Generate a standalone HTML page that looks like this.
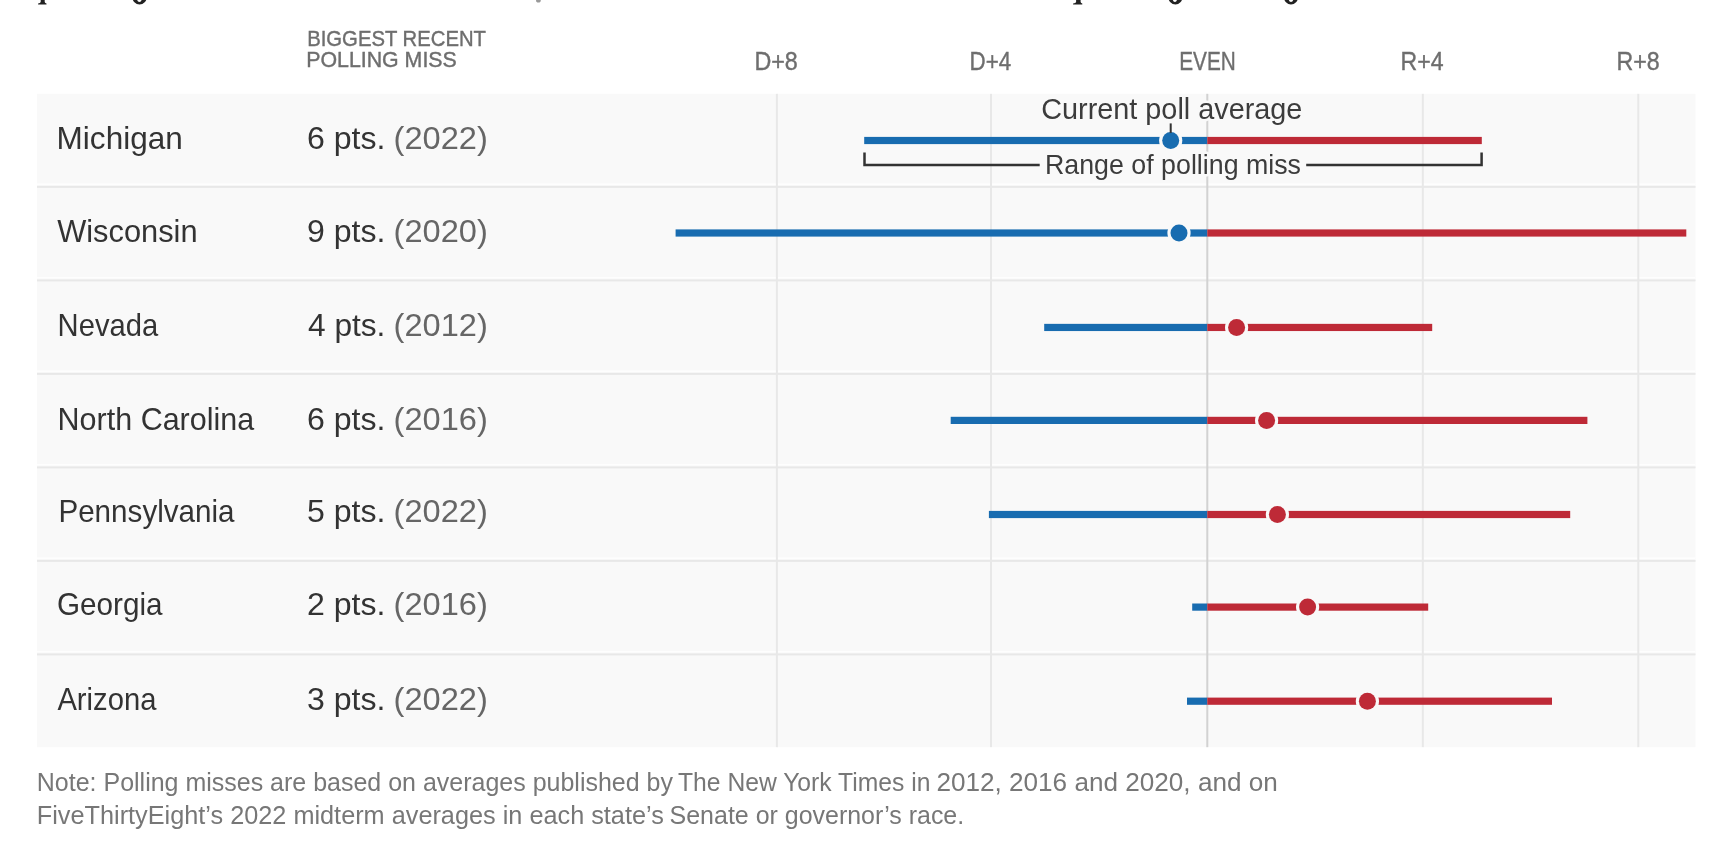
<!DOCTYPE html>
<html><head><meta charset="utf-8"><style>
html,body{margin:0;padding:0;background:#fff;}
body{width:1732px;height:868px;overflow:hidden;position:relative;}
svg{position:absolute;left:0;top:0;filter:blur(0.45px);}
text{font-family:"Liberation Sans",sans-serif;}
</style></head><body>
<svg width="1732" height="868" viewBox="0 0 1732 868">
<g fill="#222">
<path d="M40.7 0 H44.7 V2 Q45.0 3.3 46.5 3.5 V4.5 H38.1 V3.5 Q40.400000000000006 3.3 40.7 2 Z"/>
<path fill-rule="evenodd" d="M132.3 -3 A7.25 7.5 0 0 0 146.8 -3 Z M136.8 -3 A2.5999999999999943 5 0 0 0 142.0 -3 Z"/>
<path d="M1076.1 0 H1080.6 V2 Q1080.8999999999999 3.3 1082.3 3.5 V4.5 H1073.1 V3.5 Q1075.8 3.3 1076.1 2 Z"/>
<path fill-rule="evenodd" d="M1168.3 -3 A7.100000000000023 7.5 0 0 0 1182.5 -3 Z M1172.5 -3 A2.3999999999999773 5 0 0 0 1177.3 -3 Z"/>
<path fill-rule="evenodd" d="M1283.9 -3 A7.099999999999909 7.5 0 0 0 1298.1 -3 Z M1288.4 -3 A2.599999999999909 5 0 0 0 1293.6 -3 Z"/>
</g>
<ellipse cx="538.4" cy="0" rx="2.4" ry="2.6" fill="#999"/>
<rect x="37" y="93.8" width="1658.5" height="653.4" fill="#f9f9f9"/>
<rect x="37" y="183.4" width="1658.5" height="1.6" fill="#fefefe"/>
<rect x="37" y="185.9" width="1658.5" height="2" fill="#e8e8e8"/>
<rect x="37" y="276.9" width="1658.5" height="1.6" fill="#fefefe"/>
<rect x="37" y="279.4" width="1658.5" height="2" fill="#e8e8e8"/>
<rect x="37" y="370.4" width="1658.5" height="1.6" fill="#fefefe"/>
<rect x="37" y="372.9" width="1658.5" height="2" fill="#e8e8e8"/>
<rect x="37" y="463.9" width="1658.5" height="1.6" fill="#fefefe"/>
<rect x="37" y="466.4" width="1658.5" height="2" fill="#e8e8e8"/>
<rect x="37" y="557.4" width="1658.5" height="1.6" fill="#fefefe"/>
<rect x="37" y="559.9" width="1658.5" height="2" fill="#e8e8e8"/>
<rect x="37" y="650.9" width="1658.5" height="1.6" fill="#fefefe"/>
<rect x="37" y="653.4" width="1658.5" height="2" fill="#e8e8e8"/>
<rect x="775.9" y="93.8" width="2" height="653.4" fill="#e8e8e8"/>
<rect x="990.0" y="93.8" width="2" height="653.4" fill="#e8e8e8"/>
<rect x="1206.3" y="93.8" width="2" height="653.4" fill="#d2d2d2"/>
<rect x="1421.8" y="93.8" width="2" height="653.4" fill="#e8e8e8"/>
<rect x="1637.3" y="93.8" width="2" height="653.4" fill="#e8e8e8"/>
<text x="307.2" y="46.00" font-size="21.7" fill="#6e6e6e" textLength="178.8" lengthAdjust="spacingAndGlyphs" stroke="#6e6e6e" stroke-width="0.4">BIGGEST RECENT</text>
<text x="306.2" y="67.30" font-size="21.7" fill="#6e6e6e" textLength="150.6" lengthAdjust="spacingAndGlyphs" stroke="#6e6e6e" stroke-width="0.4">POLLING MISS</text>
<text x="754.4" y="70.20" font-size="26" fill="#6e6e6e" textLength="43.4" lengthAdjust="spacingAndGlyphs" stroke="#6e6e6e" stroke-width="0.4">D+8</text>
<text x="969.6" y="70.20" font-size="26" fill="#6e6e6e" textLength="41.6" lengthAdjust="spacingAndGlyphs" stroke="#6e6e6e" stroke-width="0.4">D+4</text>
<text x="1179.2" y="70.20" font-size="26" fill="#6e6e6e" textLength="56.6" lengthAdjust="spacingAndGlyphs" stroke="#6e6e6e" stroke-width="0.4">EVEN</text>
<text x="1400.6" y="70.20" font-size="26" fill="#6e6e6e" textLength="43.0" lengthAdjust="spacingAndGlyphs" stroke="#6e6e6e" stroke-width="0.4">R+4</text>
<text x="1616.4" y="70.20" font-size="26" fill="#6e6e6e" textLength="43.2" lengthAdjust="spacingAndGlyphs" stroke="#6e6e6e" stroke-width="0.4">R+8</text>
<text x="56.6" y="148.80" font-size="30.7" fill="#333333" textLength="126.2" lengthAdjust="spacingAndGlyphs">Michigan</text>
<text x="307.0" y="148.80" font-size="30.7" fill="#333333" textLength="78.4" lengthAdjust="spacingAndGlyphs">6 pts.</text>
<text x="393.6" y="148.80" font-size="30.7" fill="#666666" textLength="94.2" lengthAdjust="spacingAndGlyphs">(2022)</text>
<rect x="864.2" y="136.90" width="343.1" height="7.2" fill="#186cb0"/>
<rect x="1207.3" y="136.90" width="274.5" height="7.2" fill="#be2a37"/>
<circle cx="1170.7" cy="140.5" r="11.6" fill="#f9f9f9"/>
<circle cx="1170.7" cy="140.5" r="8.5" fill="#186cb0"/>
<text x="57.2" y="242.30" font-size="30.7" fill="#333333" textLength="140.4" lengthAdjust="spacingAndGlyphs">Wisconsin</text>
<text x="307.0" y="242.30" font-size="30.7" fill="#333333" textLength="78.4" lengthAdjust="spacingAndGlyphs">9 pts.</text>
<text x="393.6" y="242.30" font-size="30.7" fill="#666666" textLength="94.2" lengthAdjust="spacingAndGlyphs">(2020)</text>
<rect x="675.6" y="229.40" width="531.7" height="7.2" fill="#186cb0"/>
<rect x="1207.3" y="229.40" width="479.0" height="7.2" fill="#be2a37"/>
<circle cx="1179.0" cy="233.0" r="11.6" fill="#f9f9f9"/>
<circle cx="1179.0" cy="233.0" r="8.5" fill="#186cb0"/>
<text x="57.6" y="335.50" font-size="30.7" fill="#333333" textLength="100.6" lengthAdjust="spacingAndGlyphs">Nevada</text>
<text x="308.0" y="335.50" font-size="30.7" fill="#333333" textLength="77.4" lengthAdjust="spacingAndGlyphs">4 pts.</text>
<text x="393.6" y="335.50" font-size="30.7" fill="#666666" textLength="94.2" lengthAdjust="spacingAndGlyphs">(2012)</text>
<rect x="1044.2" y="323.85" width="163.1" height="7.2" fill="#186cb0"/>
<rect x="1207.3" y="323.85" width="224.9" height="7.2" fill="#be2a37"/>
<circle cx="1236.6" cy="327.4" r="11.6" fill="#f9f9f9"/>
<circle cx="1236.6" cy="327.4" r="8.5" fill="#be2a37"/>
<text x="57.6" y="429.60" font-size="30.7" fill="#333333" textLength="196.6" lengthAdjust="spacingAndGlyphs">North Carolina</text>
<text x="307.0" y="429.60" font-size="30.7" fill="#333333" textLength="78.4" lengthAdjust="spacingAndGlyphs">6 pts.</text>
<text x="393.6" y="429.60" font-size="30.7" fill="#666666" textLength="94.2" lengthAdjust="spacingAndGlyphs">(2016)</text>
<rect x="950.7" y="416.80" width="256.6" height="7.2" fill="#186cb0"/>
<rect x="1207.3" y="416.80" width="380.1" height="7.2" fill="#be2a37"/>
<circle cx="1266.6" cy="420.4" r="11.6" fill="#f9f9f9"/>
<circle cx="1266.6" cy="420.4" r="8.5" fill="#be2a37"/>
<text x="58.4" y="521.80" font-size="30.7" fill="#333333" textLength="176.2" lengthAdjust="spacingAndGlyphs">Pennsylvania</text>
<text x="307.0" y="521.80" font-size="30.7" fill="#333333" textLength="78.4" lengthAdjust="spacingAndGlyphs">5 pts.</text>
<text x="393.6" y="521.80" font-size="30.7" fill="#666666" textLength="94.2" lengthAdjust="spacingAndGlyphs">(2022)</text>
<rect x="988.9" y="510.90" width="218.4" height="7.2" fill="#186cb0"/>
<rect x="1207.3" y="510.90" width="362.9" height="7.2" fill="#be2a37"/>
<circle cx="1277.4" cy="514.5" r="11.6" fill="#f9f9f9"/>
<circle cx="1277.4" cy="514.5" r="8.5" fill="#be2a37"/>
<text x="57.0" y="615.30" font-size="30.7" fill="#333333" textLength="105.6" lengthAdjust="spacingAndGlyphs">Georgia</text>
<text x="307.0" y="615.30" font-size="30.7" fill="#333333" textLength="78.4" lengthAdjust="spacingAndGlyphs">2 pts.</text>
<text x="393.6" y="615.30" font-size="30.7" fill="#666666" textLength="94.2" lengthAdjust="spacingAndGlyphs">(2016)</text>
<rect x="1192.2" y="603.50" width="15.1" height="7.2" fill="#186cb0"/>
<rect x="1207.3" y="603.50" width="220.9" height="7.2" fill="#be2a37"/>
<circle cx="1307.6" cy="607.1" r="11.6" fill="#f9f9f9"/>
<circle cx="1307.6" cy="607.1" r="8.5" fill="#be2a37"/>
<text x="57.4" y="709.60" font-size="30.7" fill="#333333" textLength="99.0" lengthAdjust="spacingAndGlyphs">Arizona</text>
<text x="307.0" y="709.60" font-size="30.7" fill="#333333" textLength="78.4" lengthAdjust="spacingAndGlyphs">3 pts.</text>
<text x="393.6" y="709.60" font-size="30.7" fill="#666666" textLength="94.2" lengthAdjust="spacingAndGlyphs">(2022)</text>
<rect x="1187.0" y="697.60" width="20.3" height="7.2" fill="#186cb0"/>
<rect x="1207.3" y="697.60" width="344.7" height="7.2" fill="#be2a37"/>
<circle cx="1367.4" cy="701.2" r="11.6" fill="#f9f9f9"/>
<circle cx="1367.4" cy="701.2" r="8.5" fill="#be2a37"/>
<text x="1041.2" y="118.90" font-size="28.7" fill="#3c3c3c" textLength="261.2" lengthAdjust="spacingAndGlyphs" stroke="#f9f9f9" stroke-width="5" paint-order="stroke" stroke-linejoin="round">Current poll average</text>
<rect x="1169.7" y="123.4" width="2" height="9.5" fill="#333"/>
<text x="1045.0" y="173.80" font-size="27.2" fill="#3c3c3c" textLength="256.0" lengthAdjust="spacingAndGlyphs" stroke="#f9f9f9" stroke-width="5" paint-order="stroke" stroke-linejoin="round">Range of polling miss</text>
<path d="M864.5 152.5 V165 H1039.7 M1306.2 165 H1481.6 V152.5" fill="none" stroke="#333" stroke-width="2.5"/>
<text x="36.8" y="791.20" font-size="26" fill="#777777" textLength="636.2" lengthAdjust="spacingAndGlyphs">Note: Polling misses are based on averages published by</text>
<text x="678.0" y="791.20" font-size="26" fill="#777777" textLength="252.4" lengthAdjust="spacingAndGlyphs">The New York Times in</text>
<text x="936.4" y="791.20" font-size="26" fill="#777777" textLength="341.4" lengthAdjust="spacingAndGlyphs">2012, 2016 and 2020, and on</text>
<text x="36.8" y="823.50" font-size="26" fill="#777777" textLength="627.0" lengthAdjust="spacingAndGlyphs">FiveThirtyEight’s 2022 midterm averages in each state’s</text>
<text x="669.6" y="823.50" font-size="26" fill="#777777" textLength="294.6" lengthAdjust="spacingAndGlyphs">Senate or governor’s race.</text>
</svg></body></html>
